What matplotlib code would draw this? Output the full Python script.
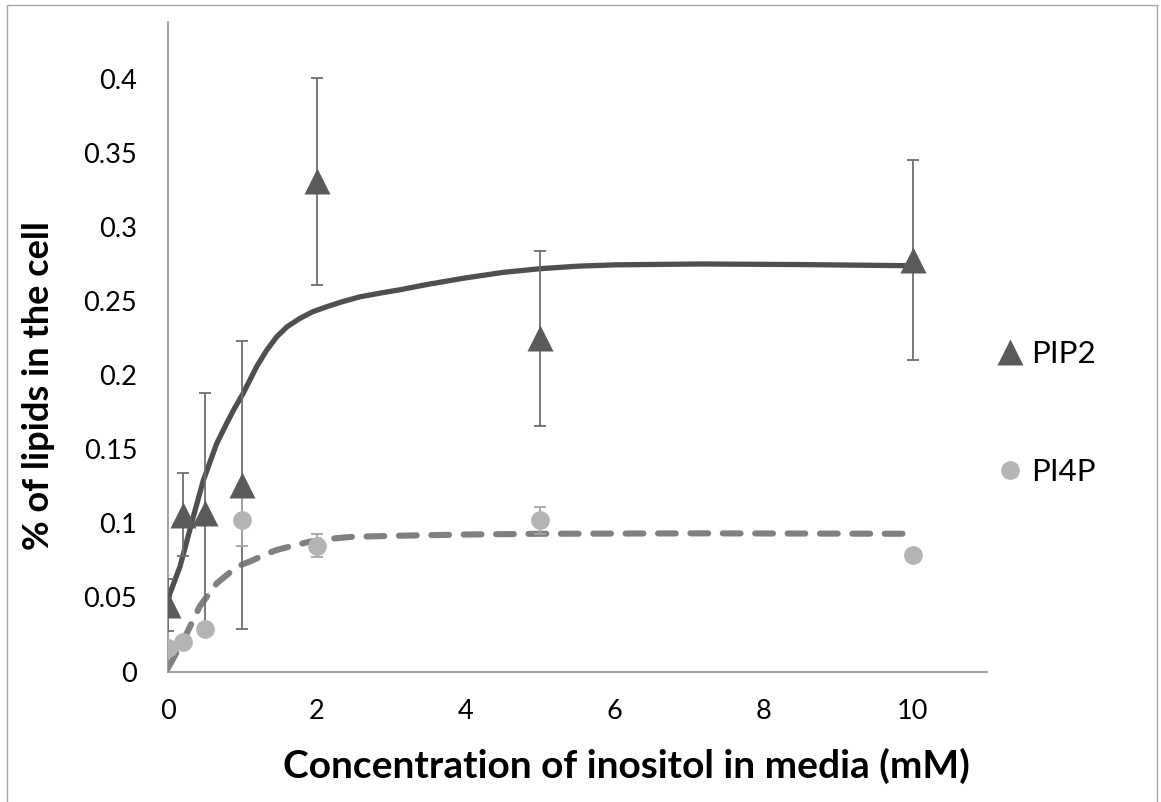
import matplotlib
matplotlib.use('Agg')
import matplotlib.pyplot as plt
from matplotlib.lines import Line2D
from matplotlib.patches import Rectangle

plt.rcParams['font.family'] = ['Lato', 'DejaVu Sans']

# ---- data ----
conc = [0, 0.2, 0.5, 1, 2, 5, 10]
pip2 = [0.045, 0.106, 0.107, 0.126, 0.331, 0.225, 0.278]
pip2_err = [0.0175, 0.028, 0.081, 0.097, 0.070, 0.059, 0.0675]
pi4p = [0.016, 0.020, 0.029, 0.102, 0.085, 0.102, 0.079]
pi4p_err = [0.003, 0.003, 0.004, 0.017, 0.008, 0.009, 0.003]

# fitted trend curves
pip2_fit_x = [0, 0.03, 0.165, 0.344, 0.478, 0.658, 0.792, 0.9, 1.015, 1.195, 1.33,
              1.463, 1.6, 1.776, 1.95, 2.134, 2.35, 2.58, 2.85, 3.12, 3.5, 4.0,
              4.5, 5.0, 5.5, 6.0, 7.15, 8.5, 10]
pip2_fit_y = [0.047, 0.0528, 0.0708, 0.1045, 0.129, 0.154, 0.1676, 0.178, 0.188, 0.206,
              0.217, 0.226, 0.2327, 0.2385, 0.243, 0.2463, 0.2498, 0.253, 0.2555,
              0.2578, 0.2615, 0.2658, 0.2695, 0.272, 0.2737, 0.2746, 0.2752, 0.2748, 0.274]
pi4p_fit_x = [0, 0.21, 0.43, 0.66, 0.93, 1.15, 1.3, 1.46, 1.7, 1.91, 2.2, 2.49,
              3.12, 4.0, 5.0, 7.15, 10]
pi4p_fit_y = [0.002, 0.021, 0.044, 0.0596, 0.0708, 0.0753, 0.0790, 0.082, 0.0852,
              0.0877, 0.0897, 0.091, 0.0917, 0.0925, 0.093, 0.0933, 0.093]

xticks = [0, 2, 4, 6, 8, 10]
yticks = [0, 0.05, 0.1, 0.15, 0.2, 0.25, 0.3, 0.35, 0.4]
ytick_labels = ['0', '0.05', '0.1', '0.15', '0.2', '0.25', '0.3', '0.35', '0.4']
series_names = ['PIP2', 'PI4P']

W, H = 1161, 802
fig = plt.figure(figsize=(W / 100, H / 100), dpi=100)
fig.patch.set_facecolor('white')

# outer chart border
fig.patches.append(Rectangle((7 / W, -0.01), (1157 - 7) / W, 1 - 5 / H + 0.01,
                             transform=fig.transFigure, fill=False,
                             edgecolor='#a6a6a6', lw=1.0))

ax = fig.add_axes([167.7 / W, 1 - 671.5 / H, (987 - 167.7) / W, (671.5 - 22) / H])

ax.plot(pip2_fit_x, pip2_fit_y, color='#4f4f4f', lw=3.8,
        solid_capstyle='round', solid_joinstyle='round', zorder=2)
ax.plot(pi4p_fit_x, pi4p_fit_y, color='#808080', lw=4.4, dashes=(2.9, 2.4),
        dash_capstyle='round', dash_joinstyle='round', zorder=2)

ax.errorbar(conc, pip2, yerr=pip2_err, fmt='none', ecolor='#6e6e6e',
            elinewidth=1.3, capsize=4.5, capthick=1.3, zorder=3)
ax.errorbar(conc, pi4p, yerr=pi4p_err, fmt='none', ecolor='#a6a6a6',
            elinewidth=1.3, capsize=4.5, capthick=1.3, zorder=3)

ax.plot(conc, pip2, linestyle='none', marker='^', ms=19, color='#5a5a5a',
        mec='none', zorder=4)
ax.plot(conc, pi4p, linestyle='none', marker='o', ms=13.5, color='#b4b4b4',
        mec='none', zorder=5)

ax.set_xlim(0, 11.0)
ax.set_ylim(0, 0.4386)
ax.set_xticks(xticks)
ax.set_xticklabels([str(t) for t in xticks])
ax.set_yticks(yticks)
ax.set_yticklabels(ytick_labels)
ax.tick_params(length=0, labelsize=19.5, colors='black')
ax.tick_params(axis='y', pad=22)
ax.tick_params(axis='x', pad=20)

for s in ['top', 'right']:
    ax.spines[s].set_visible(False)
for s in ['left', 'bottom']:
    ax.spines[s].set_color('#868686')
    ax.spines[s].set_linewidth(1.1)

ax.set_xlabel('Concentration of inositol in media (mM)', fontsize=28,
              fontweight='bold')
ax.xaxis.set_label_coords(0.56, -0.145)
ax.xaxis.label.set_va('center')
ax.set_ylabel('% of lipids in the cell', fontsize=26, fontweight='bold')
ax.yaxis.set_label_coords(-0.158, 0.44)
ax.yaxis.label.set_va('center')

handles = [Line2D([], [], linestyle='none', marker='^', ms=19, color='#5a5a5a', mec='none'),
           Line2D([], [], linestyle='none', marker='o', ms=13.5, color='#b4b4b4', mec='none')]
fig.legend(handles, series_names, loc='center left',
           bbox_to_anchor=(997.6 / W, 1 - 413 / H), frameon=False,
           fontsize=22.5, handlelength=0.8, handletextpad=0.28,
           labelspacing=2.9, borderpad=0, borderaxespad=0)

fig.savefig('out.png', dpi=100, facecolor='white')
